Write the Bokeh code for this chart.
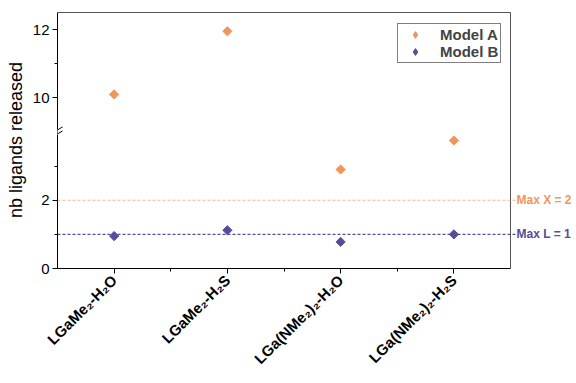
import math
from bokeh.plotting import figure
from bokeh.models import FixedTicker, Arrow, ColumnDataSource
from bokeh.core.properties import value
from bokeh.embed import file_html
from bokeh.resources import INLINE

# ---- data ----
categories = ["LGaMe₂-H₂O", "LGaMe₂-H₂S", "LGa(NMe₂)₂-H₂O", "LGa(NMe₂)₂-H₂S"]
model_a = [10.1, 11.95, 2.9, 3.75]
model_b = [0.95, 1.12, 0.78, 1.0]
limit_values = [2, 1]
limit_labels = ["Max X = 2", "Max L = 1"]
y_major_ticks = [0, 2, 10, 12]
y_minor_ticks = [1, 3, 11]
break_low, break_high = 4, 9   # axis break between 4 and 9
y_top = 12.5

ORANGE = "#F2955A"
ORANGE_LINE = "#F3B88C"
PURPLE = "#574C9C"
FONT = "Liberation Sans"
BORDER = "#555555"

gap = break_high - break_low


def tr(v):
    return v if v <= break_low else v - gap


W, H = 576, 383
LEFT, TOP, BOTTOM = 57, 11, 115
xs = list(range(1, len(categories) + 1))
x_lo, x_hi = 0.5, len(categories) + 0.5
px_x = 1.0 / 113.25            # one pixel in x data units
frame_w = W - LEFT
x_end = x_lo + frame_w * px_x   # extra room right of the box for the limit labels
y_hi = tr(y_top)
px_y = y_hi / 256.0
y_end = y_hi + px_y

p = figure(width=W, height=H, output_backend="svg", toolbar_location=None,
           x_range=(x_lo, x_end), y_range=(0, y_end),
           min_border_left=LEFT, min_border_right=0, min_border_top=TOP, min_border_bottom=BOTTOM)
p.background_fill_color = "white"
p.border_fill_color = "white"
p.xgrid.visible = False
p.ygrid.visible = False
p.outline_line_color = None

# ---- axes ----
p.yaxis.ticker = FixedTicker(ticks=[tr(v) for v in y_major_ticks],
                             minor_ticks=[tr(v) for v in y_minor_ticks])
p.yaxis.major_label_overrides = {tr(v): str(v) for v in y_major_ticks}
p.yaxis.bounds = (0, y_hi)
p.yaxis.axis_label = "nb ligands released"
p.yaxis.axis_label_text_font = FONT
p.yaxis.axis_label_text_font_style = "normal"
p.yaxis.axis_label_text_font_size = "18px"
p.yaxis.axis_label_standoff = 4
p.yaxis.major_label_text_font = FONT
p.yaxis.major_label_text_font_size = "15px"
p.yaxis.major_label_standoff = 3

p.xaxis.ticker = FixedTicker(ticks=xs, minor_ticks=[x + 0.5 for x in xs[:-1]])
p.xaxis.major_label_overrides = {x: c for x, c in zip(xs, categories)}
p.xaxis.bounds = (x_lo, x_hi)
p.xaxis.major_label_orientation = math.pi / 4
p.xaxis.major_label_text_font = FONT
p.xaxis.major_label_text_font_style = "bold"
p.xaxis.major_label_text_font_size = "15px"
p.xaxis.major_label_standoff = 4

for ax in (p.xaxis[0], p.yaxis[0]):
    ax.axis_line_color = "black"
    ax.major_tick_line_color = "black"
    ax.minor_tick_line_color = "black"
    ax.major_tick_in = 0
    ax.major_tick_out = 5
    ax.minor_tick_in = 0
    ax.minor_tick_out = 3
    ax.major_label_text_color = "black"
    ax.axis_label_text_color = "black"

# ---- box border (top and right) ----
p.segment(x0=[x_lo, x_hi], y0=[y_hi, 0], x1=[x_hi, x_hi], y1=[y_hi, y_hi],
          line_color=BORDER, line_width=1)

# ---- axis break marks ----
yb = break_low
p.add_layout(Arrow(end=None, x_start=x_lo, y_start=yb - 3 * px_y, x_end=x_lo, y_end=yb + 3 * px_y,
                   line_color="white", line_width=3))
for off in (-2.0, 2.0):
    p.add_layout(Arrow(end=None,
                       x_start=x_lo - 5 * px_x, y_start=yb + off * px_y - 3 * px_y,
                       x_end=x_lo + 5 * px_x, y_end=yb + off * px_y + 3 * px_y,
                       line_color="black", line_width=1))

# ---- reference lines + labels ----
line_colors = [ORANGE_LINE, PURPLE]
text_colors = [ORANGE, PURPLE]
line_end = x_hi + 5 * px_x
p.segment(x0=[x_lo] * 2, y0=[tr(v) for v in limit_values], x1=[line_end] * 2,
          y1=[tr(v) for v in limit_values], line_color=line_colors, line_width=1.2, line_dash="3 2")
p.text(x=[line_end + 1 * px_x] * 2, y=[tr(v) for v in limit_values], text=limit_labels,
       text_color=text_colors, text_font=value(FONT), text_font_style="bold",
       text_font_size="12px", text_baseline="middle", text_align="left")

# ---- points ----
src_a = ColumnDataSource(dict(x=xs, y=[tr(v) for v in model_a]))
src_b = ColumnDataSource(dict(x=xs, y=[tr(v) for v in model_b]))
p.scatter("x", "y", source=src_a, marker="square", angle=math.pi / 4, size=6.5,
          fill_color=ORANGE, line_color=ORANGE)
p.scatter("x", "y", source=src_b, marker="square", angle=math.pi / 4, size=6.5,
          fill_color=PURPLE, line_color=PURPLE)

# legend-only glyphs (no data drawn), so the legend shows diamonds
nan = float("nan")
p.scatter(x=[nan], y=[nan], marker="diamond", size=9, fill_color=ORANGE,
          line_color=ORANGE, legend_label="Model A")
p.scatter(x=[nan], y=[nan], marker="diamond", size=9, fill_color=PURPLE,
          line_color=PURPLE, legend_label="Model B")

lg = p.legend[0]
lg.location = (340, 205)
lg.label_text_font = FONT
lg.label_text_font_style = "bold"
lg.label_text_font_size = "15px"
lg.label_height = 17
lg.glyph_height = 17
lg.glyph_width = 30
lg.label_standoff = 10
lg.spacing = 0
lg.padding = 2
lg.margin = 0
lg.border_line_color = "black"
lg.border_line_width = 1
lg.background_fill_alpha = 1

open("out.html", "w").write(file_html(p, INLINE))
